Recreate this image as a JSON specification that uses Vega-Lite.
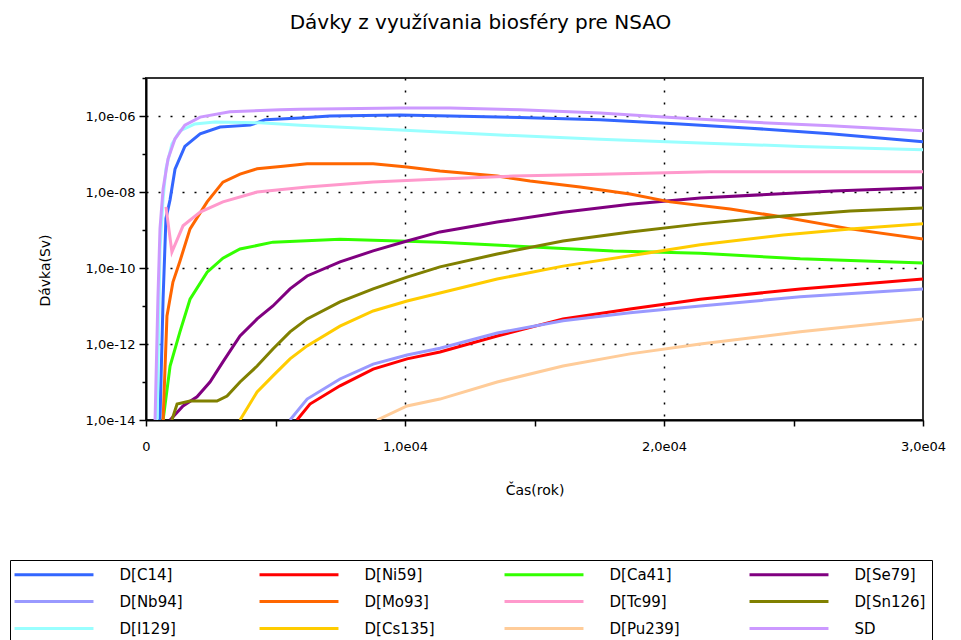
{
  "$schema": "https://vega.github.io/schema/vega-lite/v6.json",
  "width": 777,
  "height": 342,
  "autosize": {"type": "none"},
  "padding": {"left": 146, "top": 78, "right": 38, "bottom": 220},
  "background": "white",
  "title": {
    "text": "Dávky z využívania biosféry pre NSAO",
    "font": "DejaVu Sans",
    "fontSize": 20,
    "fontWeight": "normal",
    "color": "black",
    "anchor": "middle",
    "dx": -54,
    "offset": 44
  },
  "config": {
    "view": {"stroke": "#333333", "strokeWidth": 2},
    "axis": {
      "labelFont": "DejaVu Sans",
      "labelFontSize": 13,
      "labelColor": "black",
      "titleFont": "DejaVu Sans",
      "titleFontSize": 14,
      "titleFontWeight": "normal",
      "titleColor": "black",
      "domainColor": "black",
      "domainWidth": 2,
      "tickColor": "black",
      "tickWidth": 1.5,
      "gridColor": "black",
      "gridDash": [2, 10],
      "gridWidth": 1.5
    }
  },
  "data": {
    "values": [
      {"series": "D[C14]", "time": 540, "dose": 1e-14},
      {"series": "D[C14]", "time": 660, "dose": 1.58e-11},
      {"series": "D[C14]", "time": 770, "dose": 2.0e-9},
      {"series": "D[C14]", "time": 930, "dose": 6.31e-9},
      {"series": "D[C14]", "time": 1120, "dose": 3.98e-8},
      {"series": "D[C14]", "time": 1500, "dose": 1.58e-7},
      {"series": "D[C14]", "time": 2090, "dose": 3.39e-7},
      {"series": "D[C14]", "time": 2860, "dose": 5.13e-7},
      {"series": "D[C14]", "time": 4020, "dose": 5.75e-7},
      {"series": "D[C14]", "time": 4600, "dose": 7.94e-7},
      {"series": "D[C14]", "time": 5950, "dose": 8.91e-7},
      {"series": "D[C14]", "time": 7100, "dose": 1.0e-6},
      {"series": "D[C14]", "time": 9810, "dose": 1.07e-6},
      {"series": "D[C14]", "time": 11740, "dose": 1.0e-6},
      {"series": "D[C14]", "time": 14440, "dose": 9.12e-7},
      {"series": "D[C14]", "time": 17530, "dose": 7.94e-7},
      {"series": "D[C14]", "time": 20620, "dose": 6.17e-7},
      {"series": "D[C14]", "time": 23330, "dose": 4.79e-7},
      {"series": "D[C14]", "time": 26420, "dose": 3.39e-7},
      {"series": "D[C14]", "time": 30000, "dose": 2.09e-7},

      {"series": "D[Ni59]", "time": 5830, "dose": 1e-14},
      {"series": "D[Ni59]", "time": 6330, "dose": 2.63e-14},
      {"series": "D[Ni59]", "time": 7490, "dose": 7.94e-14},
      {"series": "D[Ni59]", "time": 8770, "dose": 2.19e-13},
      {"series": "D[Ni59]", "time": 10080, "dose": 4.07e-13},
      {"series": "D[Ni59]", "time": 11350, "dose": 6.17e-13},
      {"series": "D[Ni59]", "time": 13560, "dose": 1.62e-12},
      {"series": "D[Ni59]", "time": 16100, "dose": 4.57e-12},
      {"series": "D[Ni59]", "time": 18690, "dose": 8.32e-12},
      {"series": "D[Ni59]", "time": 21400, "dose": 1.51e-11},
      {"series": "D[Ni59]", "time": 25260, "dose": 2.82e-11},
      {"series": "D[Ni59]", "time": 30000, "dose": 5.13e-11},

      {"series": "D[Ca41]", "time": 660, "dose": 1e-14},
      {"series": "D[Ca41]", "time": 930, "dose": 2.63e-13},
      {"series": "D[Ca41]", "time": 1310, "dose": 2.09e-12},
      {"series": "D[Ca41]", "time": 1700, "dose": 1.51e-11},
      {"series": "D[Ca41]", "time": 2360, "dose": 7.76e-11},
      {"series": "D[Ca41]", "time": 2970, "dose": 1.82e-10},
      {"series": "D[Ca41]", "time": 3630, "dose": 3.16e-10},
      {"series": "D[Ca41]", "time": 4900, "dose": 4.79e-10},
      {"series": "D[Ca41]", "time": 7490, "dose": 5.75e-10},
      {"series": "D[Ca41]", "time": 11350, "dose": 4.79e-10},
      {"series": "D[Ca41]", "time": 14170, "dose": 3.8e-10},
      {"series": "D[Ca41]", "time": 18040, "dose": 2.82e-10},
      {"series": "D[Ca41]", "time": 21400, "dose": 2.45e-10},
      {"series": "D[Ca41]", "time": 25260, "dose": 1.74e-10},
      {"series": "D[Ca41]", "time": 30000, "dose": 1.35e-10},

      {"series": "D[Se79]", "time": 930, "dose": 1e-14},
      {"series": "D[Se79]", "time": 1430, "dose": 2.34e-14},
      {"series": "D[Se79]", "time": 1970, "dose": 4.07e-14},
      {"series": "D[Se79]", "time": 2470, "dose": 1e-13},
      {"series": "D[Se79]", "time": 2970, "dose": 3.39e-13},
      {"series": "D[Se79]", "time": 3630, "dose": 1.62e-12},
      {"series": "D[Se79]", "time": 4290, "dose": 4.57e-12},
      {"series": "D[Se79]", "time": 4900, "dose": 1e-11},
      {"series": "D[Se79]", "time": 5560, "dose": 2.82e-11},
      {"series": "D[Se79]", "time": 6220, "dose": 6.17e-11},
      {"series": "D[Se79]", "time": 7490, "dose": 1.45e-10},
      {"series": "D[Se79]", "time": 8770, "dose": 2.82e-10},
      {"series": "D[Se79]", "time": 10080, "dose": 5.13e-10},
      {"series": "D[Se79]", "time": 11350, "dose": 8.91e-10},
      {"series": "D[Se79]", "time": 13560, "dose": 1.62e-9},
      {"series": "D[Se79]", "time": 16100, "dose": 2.95e-9},
      {"series": "D[Se79]", "time": 18690, "dose": 4.79e-9},
      {"series": "D[Se79]", "time": 21400, "dose": 6.92e-9},
      {"series": "D[Se79]", "time": 26530, "dose": 1.07e-8},
      {"series": "D[Se79]", "time": 30000, "dose": 1.29e-8},

      {"series": "D[Nb94]", "time": 5560, "dose": 1e-14},
      {"series": "D[Nb94]", "time": 6220, "dose": 3.55e-14},
      {"series": "D[Nb94]", "time": 7490, "dose": 1.2e-13},
      {"series": "D[Nb94]", "time": 8770, "dose": 2.95e-13},
      {"series": "D[Nb94]", "time": 10080, "dose": 5.13e-13},
      {"series": "D[Nb94]", "time": 11350, "dose": 7.76e-13},
      {"series": "D[Nb94]", "time": 13560, "dose": 1.95e-12},
      {"series": "D[Nb94]", "time": 16100, "dose": 4.07e-12},
      {"series": "D[Nb94]", "time": 18690, "dose": 6.61e-12},
      {"series": "D[Nb94]", "time": 21400, "dose": 1e-11},
      {"series": "D[Nb94]", "time": 25260, "dose": 1.74e-11},
      {"series": "D[Nb94]", "time": 30000, "dose": 2.82e-11},

      {"series": "D[Mo93]", "time": 660, "dose": 1e-14},
      {"series": "D[Mo93]", "time": 810, "dose": 5.5e-12},
      {"series": "D[Mo93]", "time": 1040, "dose": 4.27e-11},
      {"series": "D[Mo93]", "time": 1310, "dose": 1.51e-10},
      {"series": "D[Mo93]", "time": 1700, "dose": 1.07e-9},
      {"series": "D[Mo93]", "time": 2360, "dose": 5.5e-9},
      {"series": "D[Mo93]", "time": 2970, "dose": 1.82e-8},
      {"series": "D[Mo93]", "time": 3630, "dose": 2.95e-8},
      {"series": "D[Mo93]", "time": 4290, "dose": 4.07e-8},
      {"series": "D[Mo93]", "time": 5290, "dose": 4.79e-8},
      {"series": "D[Mo93]", "time": 6220, "dose": 5.5e-8},
      {"series": "D[Mo93]", "time": 8770, "dose": 5.5e-8},
      {"series": "D[Mo93]", "time": 10080, "dose": 4.57e-8},
      {"series": "D[Mo93]", "time": 11350, "dose": 3.55e-8},
      {"series": "D[Mo93]", "time": 13560, "dose": 2.63e-8},
      {"series": "D[Mo93]", "time": 14830, "dose": 1.95e-8},
      {"series": "D[Mo93]", "time": 16760, "dose": 1.35e-8},
      {"series": "D[Mo93]", "time": 18690, "dose": 8.91e-9},
      {"series": "D[Mo93]", "time": 20240, "dose": 5.5e-9},
      {"series": "D[Mo93]", "time": 22550, "dose": 3.55e-9},
      {"series": "D[Mo93]", "time": 24600, "dose": 2.19e-9},
      {"series": "D[Mo93]", "time": 27190, "dose": 1.07e-9},
      {"series": "D[Mo93]", "time": 30000, "dose": 5.75e-10},

      {"series": "D[Tc99]", "time": 770, "dose": 4.07e-9},
      {"series": "D[Tc99]", "time": 1000, "dose": 2.63e-10},
      {"series": "D[Tc99]", "time": 1430, "dose": 1.29e-9},
      {"series": "D[Tc99]", "time": 2090, "dose": 2.95e-9},
      {"series": "D[Tc99]", "time": 2970, "dose": 5.5e-9},
      {"series": "D[Tc99]", "time": 4290, "dose": 1.0e-8},
      {"series": "D[Tc99]", "time": 6220, "dose": 1.35e-8},
      {"series": "D[Tc99]", "time": 8770, "dose": 1.82e-8},
      {"series": "D[Tc99]", "time": 11350, "dose": 2.19e-8},
      {"series": "D[Tc99]", "time": 14170, "dose": 2.63e-8},
      {"series": "D[Tc99]", "time": 17530, "dose": 2.95e-8},
      {"series": "D[Tc99]", "time": 21780, "dose": 3.39e-8},
      {"series": "D[Tc99]", "time": 30000, "dose": 3.39e-8},

      {"series": "D[Sn126]", "time": 1000, "dose": 1e-14},
      {"series": "D[Sn126]", "time": 1200, "dose": 2.63e-14},
      {"series": "D[Sn126]", "time": 1700, "dose": 3.16e-14},
      {"series": "D[Sn126]", "time": 2740, "dose": 3.16e-14},
      {"series": "D[Sn126]", "time": 3130, "dose": 4.27e-14},
      {"series": "D[Sn126]", "time": 3630, "dose": 1e-13},
      {"series": "D[Sn126]", "time": 4290, "dose": 2.63e-13},
      {"series": "D[Sn126]", "time": 4900, "dose": 7.41e-13},
      {"series": "D[Sn126]", "time": 5560, "dose": 2.09e-12},
      {"series": "D[Sn126]", "time": 6220, "dose": 4.57e-12},
      {"series": "D[Sn126]", "time": 7490, "dose": 1.29e-11},
      {"series": "D[Sn126]", "time": 8770, "dose": 2.82e-11},
      {"series": "D[Sn126]", "time": 10080, "dose": 5.75e-11},
      {"series": "D[Sn126]", "time": 11350, "dose": 1.07e-10},
      {"series": "D[Sn126]", "time": 13560, "dose": 2.34e-10},
      {"series": "D[Sn126]", "time": 16100, "dose": 5.13e-10},
      {"series": "D[Sn126]", "time": 18690, "dose": 8.91e-10},
      {"series": "D[Sn126]", "time": 21400, "dose": 1.45e-9},
      {"series": "D[Sn126]", "time": 24600, "dose": 2.34e-9},
      {"series": "D[Sn126]", "time": 27190, "dose": 3.16e-9},
      {"series": "D[Sn126]", "time": 30000, "dose": 3.8e-9},

      {"series": "D[I129]", "time": 425, "dose": 1e-14},
      {"series": "D[I129]", "time": 540, "dose": 3.16e-10},
      {"series": "D[I129]", "time": 660, "dose": 6.61e-9},
      {"series": "D[I129]", "time": 770, "dose": 4.07e-8},
      {"series": "D[I129]", "time": 1000, "dose": 1.82e-7},
      {"series": "D[I129]", "time": 1310, "dose": 4.07e-7},
      {"series": "D[I129]", "time": 1890, "dose": 6.17e-7},
      {"series": "D[I129]", "time": 2660, "dose": 6.92e-7},
      {"series": "D[I129]", "time": 4400, "dose": 6.61e-7},
      {"series": "D[I129]", "time": 5950, "dose": 5.75e-7},
      {"series": "D[I129]", "time": 9810, "dose": 4.27e-7},
      {"series": "D[I129]", "time": 13670, "dose": 3.16e-7},
      {"series": "D[I129]", "time": 17530, "dose": 2.45e-7},
      {"series": "D[I129]", "time": 21400, "dose": 1.95e-7},
      {"series": "D[I129]", "time": 25260, "dose": 1.58e-7},
      {"series": "D[I129]", "time": 30000, "dose": 1.29e-7},

      {"series": "D[Cs135]", "time": 3630, "dose": 1e-14},
      {"series": "D[Cs135]", "time": 4290, "dose": 5.5e-14},
      {"series": "D[Cs135]", "time": 4900, "dose": 1.45e-13},
      {"series": "D[Cs135]", "time": 5560, "dose": 4.07e-13},
      {"series": "D[Cs135]", "time": 6220, "dose": 8.91e-13},
      {"series": "D[Cs135]", "time": 7490, "dose": 2.95e-12},
      {"series": "D[Cs135]", "time": 8770, "dose": 7.41e-12},
      {"series": "D[Cs135]", "time": 10080, "dose": 1.35e-11},
      {"series": "D[Cs135]", "time": 11350, "dose": 2.19e-11},
      {"series": "D[Cs135]", "time": 13560, "dose": 5.13e-11},
      {"series": "D[Cs135]", "time": 16100, "dose": 1.12e-10},
      {"series": "D[Cs135]", "time": 18690, "dose": 2.09e-10},
      {"series": "D[Cs135]", "time": 21400, "dose": 4.07e-10},
      {"series": "D[Cs135]", "time": 24600, "dose": 7.41e-10},
      {"series": "D[Cs135]", "time": 27190, "dose": 1.07e-9},
      {"series": "D[Cs135]", "time": 30000, "dose": 1.45e-9},

      {"series": "D[Pu239]", "time": 8920, "dose": 1e-14},
      {"series": "D[Pu239]", "time": 10080, "dose": 2.34e-14},
      {"series": "D[Pu239]", "time": 11350, "dose": 3.55e-14},
      {"series": "D[Pu239]", "time": 13560, "dose": 1e-13},
      {"series": "D[Pu239]", "time": 16100, "dose": 2.63e-13},
      {"series": "D[Pu239]", "time": 18690, "dose": 5.5e-13},
      {"series": "D[Pu239]", "time": 21400, "dose": 1e-12},
      {"series": "D[Pu239]", "time": 25260, "dose": 2.09e-12},
      {"series": "D[Pu239]", "time": 30000, "dose": 4.57e-12},

      {"series": "SD", "time": 350, "dose": 1e-14},
      {"series": "SD", "time": 460, "dose": 1.58e-11},
      {"series": "SD", "time": 540, "dose": 1.07e-9},
      {"series": "SD", "time": 660, "dose": 1.2e-8},
      {"series": "SD", "time": 850, "dose": 7.41e-8},
      {"series": "SD", "time": 1120, "dose": 2.51e-7},
      {"series": "SD", "time": 1500, "dose": 5.75e-7},
      {"series": "SD", "time": 2090, "dose": 9.33e-7},
      {"series": "SD", "time": 3240, "dose": 1.29e-6},
      {"series": "SD", "time": 5170, "dose": 1.45e-6},
      {"series": "SD", "time": 5950, "dose": 1.51e-6},
      {"series": "SD", "time": 9810, "dose": 1.62e-6},
      {"series": "SD", "time": 11740, "dose": 1.62e-6},
      {"series": "SD", "time": 14440, "dose": 1.45e-6},
      {"series": "SD", "time": 17530, "dose": 1.2e-6},
      {"series": "SD", "time": 20620, "dose": 8.91e-7},
      {"series": "SD", "time": 23330, "dose": 6.92e-7},
      {"series": "SD", "time": 26420, "dose": 5.5e-7},
      {"series": "SD", "time": 30000, "dose": 4.07e-7}
    ]
  },
  "mark": {"type": "line", "strokeWidth": 3, "clip": true},
  "encoding": {
    "x": {
      "field": "time",
      "type": "quantitative",
      "scale": {"domain": [0, 30000], "nice": false, "zero": false},
      "axis": {
        "title": "Čas(rok)",
        "values": [0, 5000, 10000, 15000, 20000, 25000, 30000],
        "labelExpr": "datum.value == 0 ? '0' : (datum.value % 10000 == 0 ? (datum.value / 10000) + ',0e04' : '')",
        "labelPadding": 14,
        "labelFlush": false,
        "tickSize": 6,
        "titlePadding": 30,
        "grid": true,
        "gridOpacity": {"condition": {"test": "datum.value == 10000 || datum.value == 20000", "value": 1}, "value": 0}
      }
    },
    "y": {
      "field": "dose",
      "type": "quantitative",
      "scale": {"type": "log", "domain": [1e-14, 1e-5], "nice": false},
      "axis": {
        "title": "Dávka(Sv)",
        "values": [1e-14, 1e-13, 1e-12, 1e-11, 1e-10, 1e-9, 1e-8, 1e-7, 1e-6, 1e-5],
        "labelExpr": "abs(round(log(datum.value) / LN10)) % 2 == 0 ? '1,0e-' + (abs(round(log(datum.value) / LN10)) < 10 ? '0' : '') + abs(round(log(datum.value) / LN10)) : ''",
        "labelFlush": false,
        "labelPadding": 4,
        "tickSize": {"condition": {"test": "abs(round(log(datum.value) / LN10)) % 2 == 0", "value": 7}, "value": 4},
        "grid": true,
        "gridOpacity": {"condition": {"test": "abs(round(log(datum.value) / LN10)) % 2 == 0 && datum.value > 2e-14", "value": 1}, "value": 0},
        "titleX": -101,
        "titleY": 192,
        "titleAngle": -90,
        "titleAlign": "center",
        "titleBaseline": "middle"
      }
    },
    "color": {
      "field": "series",
      "type": "nominal",
      "scale": {
        "domain": ["D[C14]", "D[Ni59]", "D[Ca41]", "D[Se79]", "D[Nb94]", "D[Mo93]", "D[Tc99]", "D[Sn126]", "D[I129]", "D[Cs135]", "D[Pu239]", "SD"],
        "range": ["#3366ff", "#ff0000", "#33ff00", "#800080", "#9999ff", "#ff6600", "#ff99cc", "#808000", "#99ffff", "#ffcc00", "#ffcc99", "#cc99ff"]
      },
      "legend": {
        "title": null,
        "orient": "none",
        "legendX": -136,
        "legendY": 482,
        "direction": "horizontal",
        "columns": 4,
        "gridAlign": "all",
        "symbolType": "M-5.64,0H5.64",
        "symbolSize": 196,
        "symbolStrokeWidth": 3,
        "symbolOffset": 29.5,
        "labelFont": "DejaVu Sans",
        "labelFontSize": 15,
        "labelColor": "black",
        "labelOffset": 57,
        "columnPadding": 62,
        "rowPadding": 10,
        "padding": 6,
        "strokeColor": "black",
        "fillColor": "white"
      }
    }
  }
}
